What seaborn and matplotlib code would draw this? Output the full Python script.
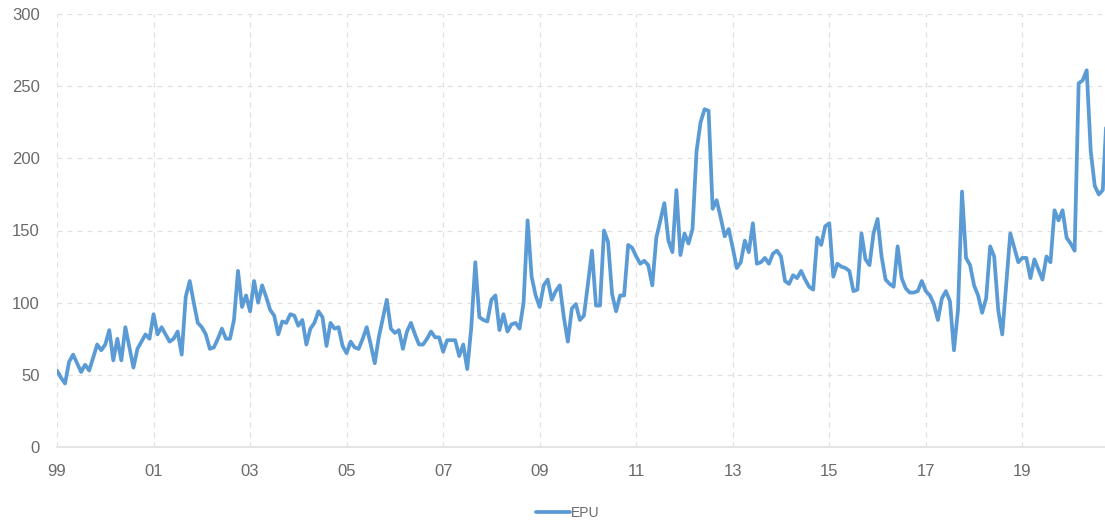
import matplotlib
matplotlib.use("Agg")
import matplotlib.pyplot as plt
import seaborn as sns
import pandas as pd
import numpy as np

# Monthly EPU index, January 1999 onward
epu = [
    53, 48, 44, 59, 64, 58, 52, 57, 53, 62, 71, 67,          # 1999
    71, 81, 60, 75, 60, 83, 69, 55, 68, 73, 78, 75,          # 2000
    92, 78, 83, 78, 73, 75, 80, 64, 104, 115, 100, 86,       # 2001
    83, 78, 68, 69, 75, 82, 75, 75, 88, 122, 97, 105,        # 2002
    94, 115, 100, 112, 104, 95, 91, 78, 87, 86, 92, 91,      # 2003
    84, 88, 71, 82, 86, 94, 90, 70, 86, 82, 83, 70,          # 2004
    65, 73, 69, 68, 75, 83, 71, 58, 76, 89, 102, 82,         # 2005
    79, 81, 68, 80, 86, 78, 71, 71, 75, 80, 76, 76,          # 2006
    66, 74, 74, 74, 63, 71, 54, 83, 128, 90, 88, 87,         # 2007
    102, 105, 81, 92, 80, 85, 86, 82, 100, 157, 118, 105,    # 2008
    97, 112, 116, 102, 108, 112, 90, 73, 96, 99, 88, 91,     # 2009
    113, 136, 98, 98, 150, 142, 106, 94, 105, 105, 140, 138, # 2010
    132, 127, 129, 126, 112, 145, 157, 169, 143, 135, 178, 133,  # 2011
    148, 141, 151, 205, 225, 234, 233, 165, 171, 159, 146, 151,  # 2012
    138, 124, 128, 143, 135, 155, 127, 128, 131, 127, 134, 136,  # 2013
    132, 115, 113, 119, 117, 122, 116, 111, 109, 145, 140, 153,  # 2014
    155, 118, 127, 125, 124, 122, 108, 109, 148, 130, 126, 148,  # 2015
    158, 132, 116, 113, 111, 139, 117, 110, 107, 107, 108, 115,  # 2016
    108, 105, 99, 88, 103, 108, 101, 67, 95, 177, 131, 126,      # 2017
    112, 105, 93, 103, 139, 132, 95, 78, 113, 148, 138, 128,     # 2018
    131, 131, 117, 130, 123, 116, 132, 128, 164, 157, 164, 145,  # 2019
    141, 136, 252, 254, 261, 205, 181, 175, 178, 232,            # 2020
]
year_labels = ["99", "01", "03", "05", "07", "09", "11", "13", "15", "17", "19"]
y_ticks = [0, 50, 100, 150, 200, 250, 300]

df = pd.DataFrame({"month": np.arange(len(epu)), "EPU": epu})

line_color = "#5b9bd5"
grid_color = "#e0e0e0"
text_color = "#6a6a6a"

sns.set_theme(style="white")
plt.rcParams["font.family"] = ["Liberation Sans", "DejaVu Sans"]

fig = plt.figure(figsize=(11.05, 5.24), dpi=100)
ax = fig.add_axes([57 / 1105, 77 / 524, 1 - 57 / 1105, 433 / 524])

sns.lineplot(data=df, x="month", y="EPU", ax=ax, color=line_color,
             linewidth=2.7, label="EPU", legend=False)

ax.set_xlim(0, 260.55)
ax.set_ylim(0, 300)
ax.set_xticks([24 * i for i in range(len(year_labels))])
ax.set_xticklabels(year_labels)
ax.set_yticks(y_ticks)
ax.set_yticklabels([str(v) for v in y_ticks])
ax.set_xlabel("")
ax.set_ylabel("")

ax.grid(True, color=grid_color, linestyle=(0, (4, 4)), linewidth=0.9)
ax.set_axisbelow(True)
for side in ("top", "right", "left"):
    ax.spines[side].set_visible(False)
ax.spines["bottom"].set_color(grid_color)
ax.spines["bottom"].set_linewidth(1.2)

ax.tick_params(axis="y", length=0, pad=12.5, labelsize=12, labelcolor=text_color)
ax.tick_params(axis="x", length=0, pad=12, labelsize=12, labelcolor=text_color)

handles, labels = ax.get_legend_handles_labels()
fig.legend(handles, labels, loc="center", bbox_to_anchor=(568 / 1105, 1 - 513 / 524),
           frameon=False, fontsize=10, labelcolor=text_color, handlelength=2.4,
           handletextpad=0.1, borderpad=0)

fig.savefig("out.png", dpi=100)
